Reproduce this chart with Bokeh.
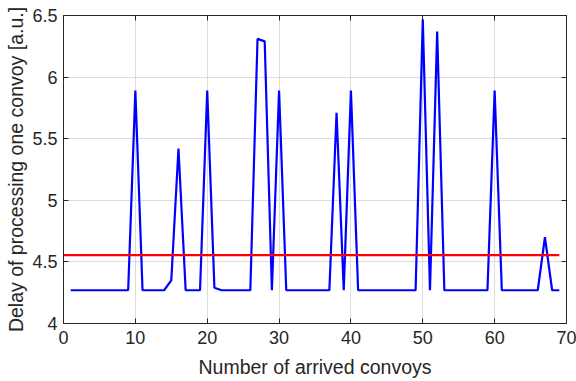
from bokeh.plotting import figure
from bokeh.models import LinearAxis, Range1d, FixedTicker
from bokeh.embed import file_html
from bokeh.resources import INLINE

convoys = list(range(1, 70))
delay = [4.27] * 69
peaks = {10: 5.89, 15: 4.35, 16: 5.42, 20: 5.89, 21: 4.29, 27: 6.31, 28: 6.29,
         30: 5.89, 38: 5.71, 40: 5.89, 50: 6.47, 52: 6.37, 60: 5.89, 67: 4.70}
for k, v in peaks.items():
    delay[k - 1] = v
mean_x = [0, 69]
mean_y = [4.555, 4.555]

x_ticks = [0, 10, 20, 30, 40, 50, 60, 70]
y_ticks = [4, 4.5, 5, 5.5, 6, 6.5]

FONT = "Liberation Sans"
TXT = "#262626"

p = figure(width=576, height=381, output_backend="svg", toolbar_location=None,
           x_range=Range1d(0, 70), y_range=Range1d(4, 6.5),
           min_border_left=63, min_border_right=10, min_border_top=15, min_border_bottom=58)
p.background_fill_color = "white"
p.border_fill_color = "white"
p.outline_line_color = "#262626"
p.outline_line_width = 1

p.line(convoys, delay, line_color="#0000ff", line_width=2.2)
p.line(mean_x, mean_y, line_color="#ff0000", line_width=2.2)

for ax in [p.xaxis[0], p.yaxis[0]]:
    ax.major_tick_in = 5
    ax.major_tick_out = 0
    ax.minor_tick_in = 0
    ax.minor_tick_out = 0
    ax.axis_line_color = "#262626"
    ax.major_tick_line_color = "#262626"
    ax.major_label_text_font = FONT
    ax.major_label_text_font_size = "18px"
    ax.major_label_text_color = TXT
    ax.axis_label_text_font = FONT
    ax.axis_label_text_font_size = "19.5px"
    ax.axis_label_text_font_style = "normal"
    ax.axis_label_text_color = TXT

p.xaxis[0].ticker = FixedTicker(ticks=x_ticks)
p.yaxis[0].ticker = FixedTicker(ticks=y_ticks)
p.xaxis[0].axis_label = "Number of arrived convoys"
p.yaxis[0].axis_label = "Delay of processing one convoy [a.u.]"
p.xaxis[0].major_label_standoff = 7
p.yaxis[0].major_label_standoff = 6
p.xaxis[0].axis_label_standoff = 9
p.yaxis[0].axis_label_standoff = 2

for loc, ticks in [("right", y_ticks), ("above", x_ticks)]:
    ax = LinearAxis(ticker=FixedTicker(ticks=ticks),
                    major_label_overrides={t: "" for t in ticks},
                    major_tick_in=5, major_tick_out=0, minor_tick_in=0, minor_tick_out=0,
                    axis_line_color="#262626", major_tick_line_color="#262626")
    p.add_layout(ax, loc)

p.xgrid.ticker = FixedTicker(ticks=x_ticks)
p.ygrid.ticker = FixedTicker(ticks=y_ticks)
p.grid.grid_line_color = "#dcdcdc"
p.grid.grid_line_width = 1

open("out.html", "w").write(file_html(p, INLINE))
